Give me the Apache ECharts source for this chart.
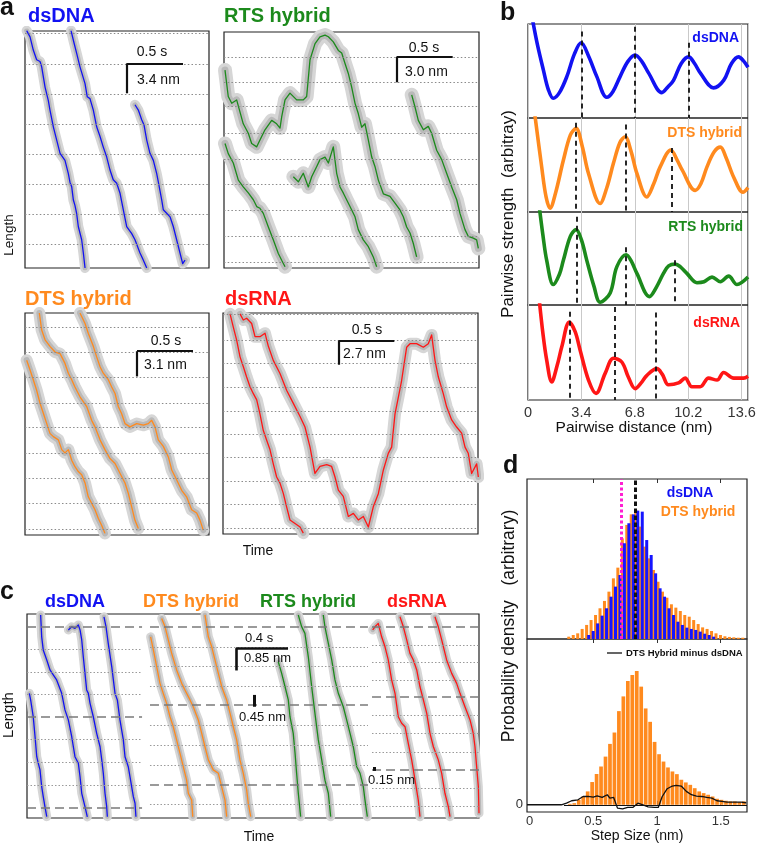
<!DOCTYPE html>
<html><head><meta charset="utf-8">
<script src="https://cdn.jsdelivr.net/npm/echarts/dist/echarts.min.js"></script>
<style>html,body{margin:0;padding:0;background:#fff}#chart{width:760px;height:844px}</style>
</head><body><div id="chart"></div>
<script>
// ---------------- DATA ----------------
// Panel a: traces as [time (s), length (nm)]
const aDna1 = [[0.015,26.9],[0.045,26.2],[0.074,24.7],[0.104,23.6],[0.134,23.4],[0.149,22.8],[0.179,20.5],[0.208,19.0],[0.223,17.9],[0.253,16.0],[0.283,14.5],[0.313,13.0],[0.328,13.2],[0.357,12.2],[0.387,10.7],[0.402,9.7],[0.417,9.2],[0.432,7.7],[0.446,7.1],[0.461,6.2],[0.476,4.7],[0.506,3.2],[0.521,1.7],[0.536,0.0]];
const aDna2 = [[0.411,26.9],[0.438,25.5],[0.462,24.3],[0.491,22.8],[0.536,20.9],[0.556,19.4],[0.580,19.2],[0.610,17.9],[0.640,16.0],[0.670,14.9],[0.699,13.7],[0.729,12.6],[0.759,11.1],[0.788,10.0],[0.819,9.6],[0.848,8.5],[0.878,6.6],[0.908,4.7],[0.953,3.9],[0.982,3.2],[1.027,1.7],[1.056,0.9],[1.087,0.0]];
const aDna3 = [[0.982,18.5],[1.012,17.9],[1.042,16.8],[1.063,16.2],[1.087,14.5],[1.116,13.0],[1.146,12.2],[1.176,10.7],[1.190,9.8],[1.221,7.7],[1.235,6.6],[1.265,6.2],[1.295,5.8],[1.324,4.7],[1.354,3.2],[1.384,1.7],[1.408,0.5],[1.429,0.9]];
const aRts1 = [[0.009,23.2],[0.038,20.1],[0.069,19.3],[0.113,19.7],[0.172,16.9],[0.217,15.8],[0.247,14.6],[0.292,14.2],[0.321,15.0],[0.366,16.2],[0.426,17.3],[0.470,16.9],[0.5,16.4],[0.515,17.7],[0.545,19.7],[0.589,20.5],[0.649,19.7],[0.708,19.7],[0.738,20.1],[0.768,24.4],[0.813,26.3],[0.857,27.1],[0.902,27.3],[0.932,27.1],[0.976,26.5],[1.021,25.5],[1.051,25.2],[1.080,24.0],[1.110,22.8],[1.140,21.2],[1.170,19.3],[1.199,18.1],[1.229,16.5],[1.259,16.9],[1.289,15.0],[1.319,13.0],[1.348,11.9],[1.378,10.3],[1.423,8.7],[1.482,8.4],[1.527,7.6],[1.571,6.8],[1.601,6.0],[1.631,4.8],[1.661,4.1],[1.690,2.9],[1.720,1.3]];
const aRts2 = [[0.009,14.6],[0.038,13.4],[0.083,12.3],[0.128,10.3],[0.172,9.5],[0.217,8.8],[0.262,8.0],[0.292,7.2],[0.321,7.0],[0.351,6.4],[0.396,4.8],[0.440,3.3],[0.485,1.7],[0.515,0.9],[0.545,0.15]];
const aRts3 = [[0.619,10.7],[0.664,10.1],[0.708,11.1],[0.753,9.5],[0.783,10.7],[0.828,11.9],[0.857,12.7],[0.902,13.0],[0.932,12.3],[0.976,14.2],[1.006,11.1],[1.036,9.5],[1.065,8.8],[1.095,8.0],[1.125,7.2],[1.170,6.0],[1.199,4.5],[1.244,3.3],[1.289,2.5],[1.333,1.3],[1.363,0.15]];
const aRts4 = [[1.676,20.3],[1.705,18.9],[1.735,17.3],[1.780,16.2],[1.824,16.6],[1.854,15.8],[1.899,13.8],[1.944,12.7],[1.988,11.1],[2.033,9.5],[2.078,8.0],[2.107,6.4],[2.152,4.5],[2.182,3.7],[2.226,3.5],[2.256,3.3],[2.271,2.3]];
const aDts1 = [[0.015,21.5],[0.045,20.3],[0.074,19.1],[0.104,17.8],[0.134,16.2],[0.163,15.0],[0.194,13.7],[0.223,12.5],[0.253,12.1],[0.298,11.7],[0.328,10.5],[0.357,10.1],[0.387,10.5],[0.417,9.2],[0.446,8.4],[0.476,7.8],[0.506,7.4],[0.536,6.4],[0.565,4.7],[0.595,3.9],[0.625,3.1],[0.654,2.05],[0.684,1.2],[0.714,0.2]];
const aDts2 = [[0.128,27.3],[0.149,25.2],[0.179,24.0],[0.223,23.2],[0.268,22.5],[0.313,22.3],[0.357,21.1],[0.387,19.9],[0.417,19.1],[0.446,18.2],[0.491,17.0],[0.551,15.8],[0.595,14.1],[0.625,13.3],[0.670,11.7],[0.714,10.5],[0.759,9.4],[0.804,8.8],[0.848,7.6],[0.893,6.4],[0.923,5.1],[0.952,3.5],[0.982,1.8],[1.012,0.8]];
const aDts3 = [[0.491,27.3],[0.536,26.0],[0.565,24.8],[0.610,23.2],[0.640,21.9],[0.670,20.7],[0.699,19.9],[0.744,19.1],[0.774,18.2],[0.804,17.4],[0.833,15.8],[0.863,14.9],[0.893,13.7],[0.938,13.3],[0.997,13.7],[1.057,13.5],[1.101,13.7],[1.131,14.1],[1.161,13.3],[1.190,11.7],[1.235,10.9],[1.280,9.6],[1.310,8.0],[1.354,6.8],[1.399,5.5],[1.443,4.7],[1.488,3.1],[1.533,2.7],[1.563,1.8],[1.592,0.6]];
const aRna1 = [[0.063,25.1],[0.092,23.6],[0.122,22.1],[0.152,20.2],[0.181,19.1],[0.211,17.9],[0.241,16.8],[0.271,16.0],[0.301,15.3],[0.330,13.7],[0.360,11.8],[0.390,10.7],[0.420,9.6],[0.449,8.0],[0.479,6.5],[0.509,5.8],[0.539,4.6],[0.568,3.1],[0.598,1.6],[0.643,1.2],[0.688,0.8],[0.717,0.1]];
const aRna2 = [[0.152,25.1],[0.181,24.4],[0.211,24.6],[0.256,24.0],[0.286,22.5],[0.330,22.5],[0.375,22.9],[0.405,21.4],[0.449,19.8],[0.509,18.3],[0.568,16.4],[0.628,14.9],[0.688,13.4],[0.732,12.2],[0.777,9.9],[0.821,6.9],[0.866,7.7],[0.926,7.9],[0.970,7.7],[1.0,6.5],[1.030,5.0],[1.074,4.3],[1.119,2.0],[1.164,2.35],[1.208,1.6],[1.253,2.0],[1.298,0.8],[1.342,3.1],[1.387,4.6],[1.432,7.3],[1.476,9.2],[1.506,9.9],[1.536,13.7],[1.566,15.6],[1.595,17.5],[1.640,21.3],[1.670,21.7],[1.729,21.7],[1.789,21.3],[1.833,21.7],[1.863,22.7],[1.893,19.8],[1.923,17.9],[1.967,16.0],[1.997,14.5],[2.042,13.0],[2.086,12.2],[2.131,11.5],[2.161,9.9],[2.190,9.2],[2.220,6.9],[2.265,8.0],[2.280,6.5]];
// helical-turn reference lines (nm) in panel a
const aDnaRef = [2.7,6.1,9.5,12.9,16.3,19.7,23.1,26.6];
const aRtsRef = [0.7,3.75,6.8,9.8,12.8,15.8,18.9,21.8,24.7];
const aDtsRef = [0.74,3.9,7.0,10.1,13.2,16.2,19.4,22.5,25.6];
const aRnaRef = [0.7,3.4,6.0,8.7,11.4,14.0,16.7,19.5,22.1,25.1];

// Panel b: [pairwise distance (nm), strength (arb.)]
const bDna = [[0.25,1.08],[0.60,0.78],[0.98,0.51],[1.30,0.30],[1.61,0.21],[2.00,0.27],[2.47,0.44],[2.95,0.68],[3.38,0.80],[3.85,0.66],[4.38,0.44],[5.01,0.22],[5.40,0.28],[5.86,0.44],[6.35,0.60],[6.82,0.67],[7.25,0.60],[7.67,0.48],[8.52,0.27],[8.90,0.33],[9.26,0.40],[9.75,0.58],[10.22,0.65],[10.60,0.58],[10.96,0.48],[11.81,0.32],[12.45,0.40],[12.95,0.58],[13.40,0.65],[13.70,0.61],[14.0,0.54]];
const bDts = [[0.40,1.08],[0.87,0.48],[1.15,0.16],[1.40,0.04],[1.75,0.20],[2.25,0.55],[2.70,0.82],[3.06,0.89],[3.45,0.70],[3.85,0.41],[4.59,0.09],[5.00,0.25],[5.44,0.52],[5.85,0.74],[6.18,0.80],[6.55,0.65],[6.93,0.41],[7.56,0.16],[8.00,0.30],[8.41,0.48],[9.09,0.66],[9.50,0.55],[9.80,0.45],[10.64,0.23],[11.00,0.30],[11.39,0.48],[11.85,0.64],[12.24,0.69],[12.60,0.58],[13.09,0.37],[13.68,0.21],[14.0,0.26]];
const bRts = [[0.70,1.08],[0.95,0.75],[1.19,0.48],[1.61,0.22],[2.00,0.33],[2.25,0.48],[2.70,0.74],[3.06,0.81],[3.40,0.70],[3.74,0.48],[4.20,0.20],[4.59,0.03],[5.23,0.13],[5.65,0.41],[6.25,0.54],[6.55,0.48],[6.93,0.34],[7.73,0.09],[8.20,0.20],[8.62,0.34],[8.95,0.42],[9.37,0.44],[9.70,0.41],[10.11,0.34],[10.75,0.24],[11.20,0.25],[11.71,0.30],[12.24,0.25],[12.77,0.31],[13.30,0.22],[14.0,0.30]];
const bRna = [[0.70,1.08],[0.95,0.70],[1.19,0.42],[1.51,0.19],[1.85,0.36],[2.15,0.56],[2.63,0.82],[3.00,0.72],[3.31,0.53],[3.85,0.21],[4.33,0.07],[4.91,0.28],[5.44,0.44],[5.97,0.40],[6.39,0.24],[6.82,0.12],[7.20,0.18],[7.57,0.26],[8.20,0.33],[8.55,0.27],[8.94,0.16],[9.58,0.18],[10.0,0.23],[10.43,0.14],[10.96,0.14],[11.49,0.23],[12.03,0.21],[12.45,0.29],[13.09,0.23],[13.72,0.23],[14.0,0.25]];
// dashed peak markers [x, top]
const bDnaPeaks = [[3.4,0.92],[6.8,0.97],[10.2,0.80]];
const bDtsPeaks = [[3.06,0.95],[6.22,0.93],[9.16,0.68]];
const bRtsPeaks = [[3.1,0.95],[6.25,0.62],[9.31,0.48]];
const bRnaPeaks = [[2.63,0.93],[5.54,0.98],[8.16,0.92]];
const bTicks = [0,3.4,6.8,10.2,13.6];

// Panel c: traces as [time (s), length (nm)]
const cDna1 = [[0.018,4.74],[0.028,4.49],[0.048,3.85],[0.062,3.09],[0.075,2.33],[0.087,2.08],[0.1,1.83],[0.113,1.19],[0.125,0.81],[0.138,0.43],[0.152,0.05]];
const cDna2 = [[0.105,7.72],[0.113,6.89],[0.125,6.39],[0.152,6.01],[0.177,5.63],[0.202,5.44],[0.228,5.25],[0.267,4.74],[0.292,4.11],[0.318,3.73],[0.344,3.09],[0.369,2.33],[0.395,2.08],[0.408,1.57],[0.421,0.94],[0.446,0.43],[0.464,0.04]];
const cDna3 = [[0.318,7.15],[0.344,7.27],[0.369,7.21],[0.395,7.34],[0.408,7.15],[0.421,6.77],[0.433,6.13],[0.446,5.50],[0.459,4.87],[0.472,4.74],[0.485,4.36],[0.510,3.85],[0.536,3.22],[0.562,2.71],[0.575,2.21],[0.587,1.70],[0.600,0.94],[0.613,0.43],[0.618,0.05]];
const cDna4 = [[0.592,7.65],[0.608,7.27],[0.625,6.64],[0.652,5.75],[0.677,4.74],[0.695,4.49],[0.715,3.73],[0.741,2.97],[0.754,2.33],[0.779,1.95],[0.805,1.19],[0.818,0.81],[0.831,0.56],[0.838,0.05]];
const cDts1 = [[0.951,6.89],[0.972,6.39],[0.998,5.75],[1.023,5.12],[1.048,4.74],[1.074,4.36],[1.1,3.85],[1.125,3.47],[1.151,2.97],[1.177,2.46],[1.202,1.95],[1.228,1.44],[1.241,0.94],[1.267,0.68],[1.275,0.05]];
const cDts2 = [[1.036,7.59],[1.062,7.27],[1.087,6.77],[1.113,6.26],[1.151,5.63],[1.190,5.12],[1.215,4.87],[1.254,4.49],[1.279,4.23],[1.318,3.73],[1.344,3.22],[1.369,2.71],[1.395,2.21],[1.433,1.83],[1.472,1.70],[1.497,1.19],[1.523,0.68],[1.536,0.05]];
const cDts3 = [[1.369,7.72],[1.395,6.89],[1.421,6.51],[1.446,6.01],[1.472,5.50],[1.498,4.99],[1.536,4.49],[1.562,3.98],[1.587,3.47],[1.613,2.97],[1.638,2.21],[1.664,1.70],[1.690,1.06],[1.702,0.56],[1.721,0.05]];
const cRts1 = [[1.933,5.94],[1.959,5.50],[1.985,4.99],[2.010,4.49],[2.023,3.85],[2.048,3.22],[2.062,2.46],[2.074,1.70],[2.087,0.94],[2.105,0.05]];
const cRts2 = [[2.087,7.72],[2.113,7.27],[2.138,7.02],[2.164,6.13],[2.190,4.99],[2.215,3.98],[2.241,2.97],[2.267,2.21],[2.292,1.44],[2.318,0.94],[2.336,0.05]];
const cRts3 = [[2.279,7.72],[2.292,7.27],[2.318,6.64],[2.344,6.01],[2.369,5.25],[2.395,4.74],[2.433,4.23],[2.459,3.73],[2.485,3.22],[2.510,2.71],[2.536,1.95],[2.562,1.70],[2.587,1.19],[2.6,0.68],[2.618,0.05]];
const cRna1 = [[2.659,7.15],[2.677,7.27],[2.702,7.40],[2.728,6.89],[2.754,6.51],[2.779,6.01],[2.805,5.25],[2.831,4.74],[2.856,3.85],[2.882,3.60],[2.908,3.47],[2.933,2.84],[2.959,2.21],[2.985,1.44],[3.010,0.68],[3.023,0.05]];
const cRna2 = [[2.869,7.65],[2.895,7.27],[2.921,6.77],[2.946,6.26],[2.972,6.01],[2.998,5.63],[3.023,4.99],[3.049,4.49],[3.075,3.98],[3.1,3.22],[3.126,2.71],[3.164,2.21],[3.190,1.70],[3.215,0.94],[3.241,0.43],[3.254,0.05]];
const cRna3 = [[3.138,7.65],[3.164,7.27],[3.190,6.77],[3.228,6.01],[3.267,5.50],[3.305,5.12],[3.331,4.74],[3.369,4.23],[3.408,3.73],[3.433,3.22],[3.446,2.71],[3.459,1.95],[3.472,1.19],[3.477,0.18]];
const cDnaTurn = [0.38,3.84,7.26];
const cDnaStep = [1.25,2.13,3.00,4.71,5.55,6.43];
const cHybTurn = [1.25,4.30,7.26];
const cHybStep = [0.53,2.02,2.78,3.54,5.02,5.78,6.50];
const cRnaTurn = [1.83,4.60,7.26];
const cRnaStep = [0.46,1.14,2.51,3.23,3.92,5.25,5.93,6.58];

// Panel d: step-size histograms
const dBins = [0.316,0.351,0.386,0.421,0.456,0.491,0.526,0.561,0.596,0.631,0.666,0.701,0.736,0.771,0.806,0.841,0.876,0.911,0.946,0.981,1.016,1.051,1.086,1.121,1.156,1.191,1.226,1.261,1.296,1.331,1.366,1.401,1.436,1.471,1.506,1.541,1.576,1.611,1.646,1.681];
const dDtsTop = [0.018,0.031,0.044,0.078,0.109,0.147,0.186,0.238,0.295,0.367,0.47,0.553,0.78,0.884,0.966,1.0,0.871,0.716,0.625,0.535,0.444,0.367,0.32,0.269,0.243,0.217,0.186,0.173,0.147,0.116,0.09,0.078,0.062,0.044,0.031,0.021,0.016,0.013,0.01,0.01];
const dDnaTop = [0,0,0,0,0.031,0.062,0.121,0.181,0.238,0.328,0.406,0.496,0.742,0.897,0.966,0.995,0.987,0.767,0.651,0.509,0.393,0.328,0.238,0.186,0.134,0.109,0.088,0.078,0.07,0.057,0.041,0.031,0.018,0,0,0,0,0,0,0];
const dDtsBottom = [0.007,0.012,0.037,0.062,0.10,0.17,0.23,0.286,0.36,0.455,0.54,0.70,0.81,0.925,0.97,1.0,0.883,0.72,0.62,0.47,0.378,0.323,0.279,0.249,0.229,0.187,0.167,0.149,0.124,0.10,0.087,0.075,0.062,0.045,0.037,0.03,0.025,0.025,0.02,0.025];
const dDiff = [[-0.02,0],[0.25,0],[0.29,0.012],[0.33,0.03],[0.38,0.037],[0.42,0.062],[0.46,0.062],[0.50,0.057],[0.53,0.067],[0.57,0.055],[0.61,0.075],[0.63,0.05],[0.66,0.055],[0.69,-0.025],[0.73,-0.03],[0.77,-0.02],[0.81,-0.02],[0.85,0.012],[0.89,0.0],[0.93,-0.015],[0.98,-0.02],[1.01,-0.02],[1.04,0.06],[1.08,0.12],[1.12,0.14],[1.15,0.145],[1.19,0.14],[1.23,0.10],[1.27,0.075],[1.31,0.065],[1.35,0.062],[1.39,0.055],[1.43,0.05],[1.47,0.03],[1.51,0.025],[1.55,0.02],[1.59,0.02],[1.63,0.02],[1.66,0.02],[1.70,0.015]];
const dTicks = [0,0.5,1,1.5];
const dMeanDts = 0.717, dMeanDna = 0.833;

// ---------------- BUILD ----------------
const FONT = '"Liberation Sans", Arial, Helvetica, sans-serif';
const COL = {dna:'#1212f2', dts:'#ff8a1e', rts:'#1c8a1c', rna:'#ff1616', mag:'#ff1fd2'};
const grids = [], xAxes = [], yAxes = [], series = [], graphics = [];

function addGrid(rect, xa, ya, border) {
  grids.push(Object.assign({show: !!border, borderColor:'#222', borderWidth:1.2, backgroundColor:'rgba(0,0,0,0)'}, rect));
  const gi = grids.length - 1;
  xAxes.push(Object.assign({type:'value', gridIndex:gi}, xa));
  yAxes.push(Object.assign({type:'value', gridIndex:gi}, ya));
  return {gi, xi: xAxes.length - 1, yi: yAxes.length - 1};
}
const hidden = (min, max) => ({min, max, show:false});

function addTrace(g, data, color, band) {
  // noisy raw signal, drawn as a soft grey envelope under the filtered trace
  series.push({type:'line', xAxisIndex:g.xi, yAxisIndex:g.yi, data, symbol:'none', silent:true, z:2,
    lineStyle:{color:'#d6d6d6', width:band, cap:'round', join:'round'}});
  series.push({type:'line', xAxisIndex:g.xi, yAxisIndex:g.yi, data, symbol:'none', silent:true, z:2,
    lineStyle:{color:'#b9b9b9', width:band * 0.5, cap:'round', join:'round'}});
  series.push({type:'line', xAxisIndex:g.xi, yAxisIndex:g.yi, data, symbol:'none', silent:true, z:3,
    lineStyle:{color, width:1.3, join:'round'}});
}
function addMarks(g, lines, z) {
  series.push({type:'line', xAxisIndex:g.xi, yAxisIndex:g.yi, data:[], symbol:'none', silent:true, z: z || 1,
    markLine:{silent:true, symbol:['none','none'], label:{show:false}, animation:false, data: lines}});
}
const seg = (x0, y0, x1, y1, ls) => [{coord:[x0,y0], lineStyle:ls}, {coord:[x1,y1]}];
function text(t, x, y, opt) {
  opt = opt || {};
  graphics.push({type:'text', x, y, rotation: opt.rot || 0, silent:true, z:100,
    style:{text:t, x:0, y:0, fill: opt.color || '#111', fontSize: opt.size || 14, fontWeight: opt.bold ? 'bold' : 'normal',
      fontFamily: FONT, textAlign: opt.align || 'left', textVerticalAlign:'middle'}});
}

// ---- panel a ----
const dotA = {color:'#8a8a8a', width:1, type:[1.5,2.2]};
const barS = {color:'#111', width:2.2, type:'solid'};
const aPanels = [
  {rect:{left:25, top:31, width:184, height:237}, xmax:1.643, ymax:26.86, traces:[aDna1,aDna2,aDna3], color:COL.dna, ref:aDnaRef, bar:[0.911,23.2,0.5,3.4], band:10},
  {rect:{left:224, top:32, width:255, height:236}, xmax:2.277, ymax:27.66, traces:[aRts1,aRts2,aRts3,aRts4], color:COL.rts, ref:aRtsRef, bar:[1.542,24.76,0.5,3.0], band:14},
  {rect:{left:25, top:313, width:184, height:222}, xmax:1.643, ymax:27.3, traces:[aDts1,aDts2,aDts3], color:COL.dts, ref:aDtsRef, bar:[1.0,22.6,0.5,3.1], band:12},
  {rect:{left:223, top:313, width:255, height:221}, xmax:2.277, ymax:25.2, traces:[aRna1,aRna2], color:COL.rna, ref:aRnaRef, bar:[1.03,22.0,0.5,2.7], band:12}
];
aPanels.forEach(p => {
  const g = addGrid(p.rect, hidden(0, p.xmax), hidden(0, p.ymax), true);
  addMarks(g, p.ref.map(v => ({yAxis:v, lineStyle:dotA})), 1);
  p.traces.forEach(t => addTrace(g, t, p.color, p.band));
  const [bx, by, bw, bh] = p.bar;
  addMarks(g, [seg(bx, by, bx + bw, by, barS), seg(bx, by, bx, by - bh, barS)], 6);
});

// ---- panel b ----
const bPanels = [
  {top:24, h:94, data:bDna, color:COL.dna, peaks:bDnaPeaks},
  {top:118, h:94, data:bDts, color:COL.dts, peaks:bDtsPeaks},
  {top:212, h:93, data:bRts, color:COL.rts, peaks:bRtsPeaks},
  {top:305, h:95, data:bRna, color:COL.rna, peaks:bRnaPeaks}
];
bPanels.forEach((p, i) => {
  const last = i === bPanels.length - 1;
  const g = addGrid({left:528, top:p.top, width:220, height:p.h},
    {min:0, max:14, interval:3.4, axisLine:{show:false}, axisTick:{show:false},
     axisLabel:{show:last, showMaxLabel:false, fontSize:14.5, color:'#333', fontFamily:FONT, margin:5,
       formatter: v => bTicks.includes(+(+v).toFixed(1)) ? String(+(+v).toFixed(1)) : ''},
     splitLine:{show:true, lineStyle:{color:'#c9c9c9', width:1}}},
    {min:0, max:1, show:false}, true);
  series.push({type:'line', xAxisIndex:g.xi, yAxisIndex:g.yi, data:p.data, smooth:0.35, symbol:'none', silent:true, z:3,
    lineStyle:{color:p.color, width:3.6, join:'round'}});
  addMarks(g, p.peaks.map(([x, t]) => seg(x, t, x, 0, {color:'#111', width:1.8, type:[5,4]})), 4);
});

// ---- panel c ----
const gC = addGrid({left:27, top:614, width:452, height:204}, hidden(0, 3.477), hidden(0, 7.757), true);
const dashC = {color:'#7a7a7a', width:1.6, type:[9,5]};
const dotC = {color:'#9a9a9a', width:1, type:[1.5,2]};
const cLines = [];
cDnaTurn.forEach(v => cLines.push(seg(0, v, 0.885, v, dashC)));
cDnaStep.forEach(v => cLines.push(seg(0, v, 0.885, v, dotC)));
cHybTurn.forEach(v => cLines.push(seg(0.946, v, 2.623, v, dashC)));
cHybStep.forEach(v => cLines.push(seg(0.946, v, 2.623, v, dotC)));
cRnaTurn.forEach(v => cLines.push(seg(2.654, v, 3.477, v, dashC)));
cRnaStep.forEach(v => cLines.push(seg(2.654, v, 3.477, v, dotC)));
addMarks(gC, cLines, 1);
[cDna1,cDna2,cDna3,cDna4].forEach(t => addTrace(gC, t, COL.dna, 9));
[cDts1,cDts2,cDts3].forEach(t => addTrace(gC, t, COL.dts, 9));
[cRts1,cRts2,cRts3].forEach(t => addTrace(gC, t, COL.rts, 9));
[cRna1,cRna2,cRna3].forEach(t => addTrace(gC, t, COL.rna, 9));
const barC = {color:'#111', width:2.6, type:'solid'};
const barC2 = {color:'#111', width:3, type:'solid'};
addMarks(gC, [seg(1.608, 6.46, 2.008, 6.46, barC), seg(1.608, 6.46, 1.608, 5.61, barC),
  seg(1.746, 4.68, 1.746, 4.23, barC2), seg(2.669, 1.94, 2.669, 1.79, barC2)], 6);

// ---- panel d ----
const dX = (labels) => ({min:-0.02, max:1.706, axisLine:{show:false},
  axisTick:{show:true, inside:true, length:4, customValues:[0.5,1,1.5], lineStyle:{color:'#333'}},
  axisLabel:{show:labels, customValues:dTicks, fontSize:13, color:'#333', fontFamily:FONT, margin:3, formatter: v => String(v)},
  splitLine:{show:false}});
const gD1 = addGrid({left:527, top:479, width:220, height:160}, dX(false), {min:0, max:1.24, show:false}, true);
xAxes.push(Object.assign({type:'value', gridIndex:gD1.gi, position:'top'}, dX(false)));
const gD2 = addGrid({left:527, top:639, width:220, height:173}, dX(true),
  {min:-0.054, max:1.239, axisLine:{show:false}, axisTick:{show:false}, splitLine:{show:false},
   axisLabel:{customValues:[0], fontSize:13, color:'#333', fontFamily:FONT, margin:4, formatter: v => String(v)}}, true);
xAxes.push(Object.assign({type:'value', gridIndex:gD2.gi, position:'top'}, dX(false)));

series.push({type:'bar', xAxisIndex:gD1.xi, yAxisIndex:gD1.yi, data:dBins.map((x, i) => [x, dDtsTop[i]]),
  barWidth:3, barGap:'-30%', itemStyle:{color:COL.dts}, silent:true, z:2});
series.push({type:'bar', xAxisIndex:gD1.xi, yAxisIndex:gD1.yi, data:dBins.map((x, i) => [x, dDnaTop[i]]),
  barWidth:3, barGap:'-30%', itemStyle:{color:'#1515ff'}, silent:true, z:3});
addMarks(gD1, [{xAxis:dMeanDts, lineStyle:{color:COL.mag, width:3, type:[3,2.5]}},
               {xAxis:dMeanDna, lineStyle:{color:'#111', width:3, type:[4.5,2.5]}}], 6);

series.push({type:'bar', xAxisIndex:gD2.xi, yAxisIndex:gD2.yi, data:dBins.map((x, i) => [x, dDtsBottom[i]]),
  barWidth:3.7, itemStyle:{color:COL.dts}, silent:true, z:2});
addMarks(gD2, [seg(0.27, 0, 1.706, 0, {color:'#111', width:1, type:'solid'})], 3);
series.push({type:'line', xAxisIndex:gD2.xi, yAxisIndex:gD2.yi, data:dDiff, symbol:'none', silent:true, z:4,
  lineStyle:{color:'#111', width:1.3}});

// ---- text ----
text('a', 0, 8, {size:25, bold:true});
text('b', 500, 13, {size:25, bold:true});
text('c', 0, 592, {size:25, bold:true});
text('d', 503, 466, {size:25, bold:true});
text('dsDNA', 28, 16, {size:20, bold:true, color:COL.dna});
text('RTS hybrid', 224, 16, {size:20, bold:true, color:COL.rts});
text('DTS hybrid', 25, 299, {size:20, bold:true, color:COL.dts});
text('dsRNA', 225, 299, {size:20, bold:true, color:COL.rna});
text('0.5 s', 152, 52, {align:'center'}); text('3.4 nm', 137, 80);
text('0.5 s', 424, 48, {align:'center'}); text('3.0 nm', 405, 72);
text('0.5 s', 166, 341, {align:'center'}); text('3.1 nm', 144, 365);
text('0.5 s', 367, 330, {align:'center'}); text('2.7 nm', 343, 354);
text('Time', 258, 551, {align:'center'});
text('Length', 9, 235, {align:'center', rot:Math.PI/2, size:13.5});

text('dsDNA', 739, 38, {size:14, bold:true, color:COL.dna, align:'right'});
text('DTS hybrid', 742, 133, {size:14, bold:true, color:COL.dts, align:'right'});
text('RTS hybrid', 743, 227, {size:14, bold:true, color:COL.rts, align:'right'});
text('dsRNA', 740, 323, {size:14, bold:true, color:COL.rna, align:'right'});
text('Pairwise distance (nm)', 634, 428, {align:'center', size:15.5});
text('Pairwise strength  (arbitray)', 508, 214, {align:'center', rot:Math.PI/2, size:17});

text('dsDNA', 45, 602, {size:18, bold:true, color:COL.dna});
text('DTS hybrid', 143, 602, {size:18, bold:true, color:COL.dts});
text('RTS hybrid', 260, 602, {size:18, bold:true, color:COL.rts});
text('dsRNA', 387, 602, {size:18, bold:true, color:COL.rna});
text('0.4 s', 245, 638, {size:13}); text('0.85 nm', 244, 658, {size:13});
text('0.45 nm', 239, 717, {size:13}); text('0.15 nm', 368, 780, {size:13});
text('Time', 259, 837, {align:'center'});
text('Length', 9, 715, {align:'center', rot:Math.PI/2, size:15});

text('dsDNA', 690, 493, {size:14, bold:true, color:COL.dna, align:'center'});
text('DTS hybrid', 698, 512, {size:14, bold:true, color:COL.dts, align:'center'});
graphics.push({type:'line', silent:true, z:100, shape:{x1:607, y1:653, x2:622, y2:653}, style:{stroke:'#111', lineWidth:1.3}});
text('DTS Hybrid minus dsDNA', 626, 653, {size:9.5, bold:true});
text('Step Size (nm)', 637, 836, {align:'center', size:14});
text('Probability density   (arbitrary)', 509, 626, {align:'center', rot:Math.PI/2, size:17.5});

const chart = echarts.init(document.getElementById('chart'), null, {renderer:'canvas'});
chart.setOption({animation:false, backgroundColor:'#fff', textStyle:{fontFamily:FONT},
  grid:grids, xAxis:xAxes, yAxis:yAxes, series, graphic:{elements:graphics}});
</script></body></html>
